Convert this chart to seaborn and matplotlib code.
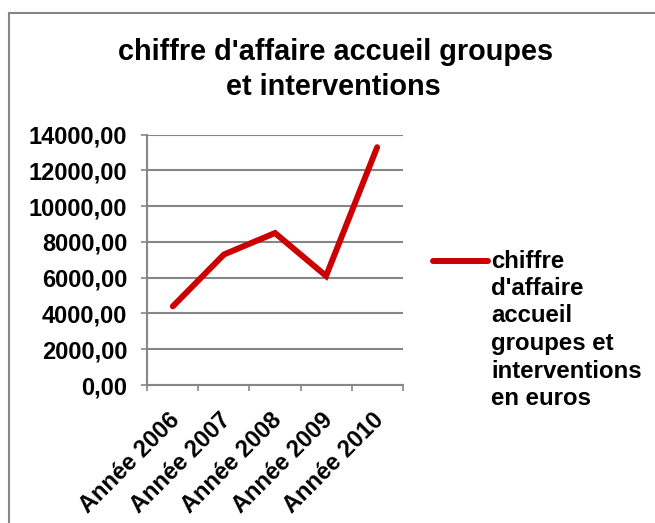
import matplotlib
matplotlib.use("Agg")
import matplotlib.pyplot as plt
import matplotlib.transforms as mtransforms
from matplotlib.patches import Rectangle
from matplotlib.lines import Line2D
from matplotlib.ticker import FuncFormatter, FixedLocator
import seaborn as sns
import pandas as pd

categories = ["Année 2006", "Année 2007", "Année 2008", "Année 2009", "Année 2010"]
values = [4400, 7300, 8500, 6100, 13300]
title_lines = ["chiffre d'affaire accueil groupes", "et interventions"]
series_label = ["chiffre", "d'affaire", "accueil", "groupes et", "interventions", "en euros"]
y_ticks = [0, 2000, 4000, 6000, 8000, 10000, 12000, 14000]

sns.set_style("white")
plt.rcParams['font.family'] = ['Liberation Sans', 'DejaVu Sans']
plt.rcParams['font.weight'] = 'bold'
plt.rcParams['text.color'] = 'black'
plt.rcParams['xtick.labelcolor'] = 'black'
plt.rcParams['ytick.labelcolor'] = 'black'

W, H = 655, 523
fig = plt.figure(figsize=(W / 100, H / 100), dpi=100)
ax = fig.add_axes([147.3 / W, 1 - 385 / H, (402.7 - 147.3) / W, (385 - 134.7) / H])

df = pd.DataFrame({"cat": categories, "val": values})
red = "#CC0000"
grey = "#868686"
sns.lineplot(data=df, x="cat", y="val", ax=ax, color=red, linewidth=4.3,
             solid_capstyle="round", solid_joinstyle="miter", sort=False)

ax.set_xlim(-0.5, len(categories) - 0.5)
ax.set_ylim(0, 14000)
ax.set_yticks(y_ticks)
ax.yaxis.set_major_formatter(FuncFormatter(lambda v, p: f"{v:.2f}".replace('.', ',')))
ax.set_xlabel("")
ax.set_ylabel("")

ax.grid(axis='y', color=grey, linewidth=1.5)
ax.grid(axis='x', visible=False)
ax.set_axisbelow(True)
for s in ["top", "right"]:
    ax.spines[s].set_visible(False)
for s in ["left", "bottom"]:
    ax.spines[s].set_color(grey)
    ax.spines[s].set_linewidth(1.5)

ax.tick_params(axis='y', which='major', left=True, length=4.3, width=1.2, color=grey,
               pad=10, labelsize=17, labelcolor='black')
for lab in ax.get_yticklabels():
    lab.set_fontweight('bold')

# x: labels at category centers, tick marks at boundaries
ax.set_xticks(range(len(categories)))
ax.set_xticklabels(categories)
ax.xaxis.set_minor_locator(FixedLocator([i - 0.5 for i in range(len(categories) + 1)]))
ax.tick_params(axis='x', which='major', bottom=True, length=0, pad=17, labelsize=17,
               labelcolor='black')
ax.tick_params(axis='x', which='minor', bottom=True, length=4.5, width=1.2, color=grey)
offset = mtransforms.ScaledTranslation(-5 / 100, 0, fig.dpi_scale_trans)
for lab in ax.get_xticklabels():
    lab.set_rotation(45)
    lab.set_ha('right')
    lab.set_va('top')
    lab.set_rotation_mode('anchor')
    lab.set_fontweight('bold')
    lab.set_transform(lab.get_transform() + offset)

# title
fig.text(335.5 / W, 1 - 52 / H, title_lines[0], ha='center', va='center',
         fontsize=20.8, fontweight='bold', color='black')
fig.text(333 / W, 1 - 87 / H, title_lines[1], ha='center', va='center',
         fontsize=20.8, fontweight='bold', color='black')

# legend
fig.add_artist(Line2D([433 / W, 488 / W], [1 - 261 / H, 1 - 261 / H], color=red,
                      linewidth=4.3, solid_capstyle='round', transform=fig.transFigure))
for i, t in enumerate(series_label):
    fig.text(491 / W, 1 - (261 + 27.5 * i) / H, t, ha='left', va='center',
             fontsize=17.3, fontweight='bold', color='black')

# chart area border
fig.add_artist(Rectangle((8.5 / W, -0.1), 1.2, 1.1 - 13.5 / H, transform=fig.transFigure,
                         fill=False, edgecolor=grey, linewidth=1.5))

fig.savefig("out.png", dpi=100)
